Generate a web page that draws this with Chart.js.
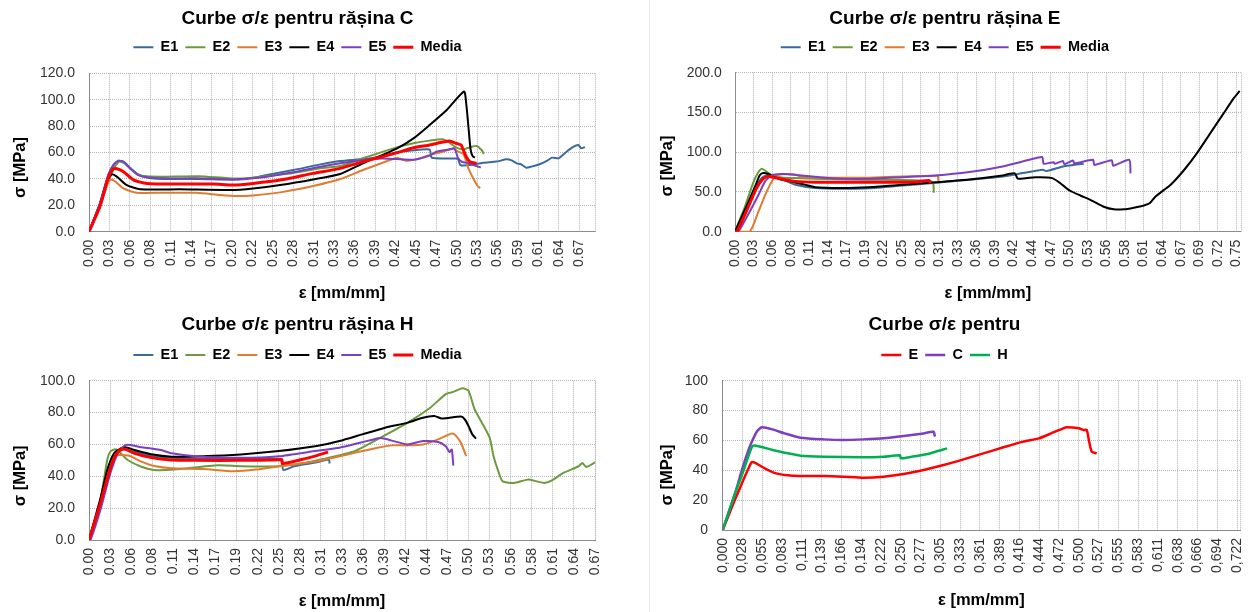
<!DOCTYPE html>
<html>
<head>
<meta charset="utf-8">
<script src="https://cdn.jsdelivr.net/npm/chart.js@4.4.1/dist/chart.umd.min.js"></script>
<style>
  html, body { margin: 0; padding: 0; background: #fff; }
  body { width: 1248px; height: 612px; position: relative; overflow: hidden; }
  canvas { position: absolute; }
  .divider { position: absolute; left: 649px; top: 0; width: 1px; height: 612px; background: #ececec; }
</style>
</head>
<body>
<div class="divider"></div>
<canvas id="chartC" width="620" height="310" style="left:0;top:0"></canvas>
<canvas id="chartE" width="599" height="310" style="left:649px;top:0"></canvas>
<canvas id="chartH" width="620" height="302" style="left:0;top:310px"></canvas>
<canvas id="chartAll" width="599" height="302" style="left:649px;top:310px"></canvas>
<script>
// ---- strain tick labels ----
const ticksC = ['0.00','0.03','0.06','0.08','0.11','0.14','0.17','0.20','0.22','0.25','0.28','0.31','0.33','0.36','0.39','0.42','0.45','0.47','0.50','0.53','0.56','0.59','0.61','0.64','0.67'];
const ticksE = ['0.00','0.03','0.06','0.08','0.11','0.14','0.17','0.19','0.22','0.25','0.28','0.31','0.33','0.36','0.39','0.42','0.44','0.47','0.50','0.53','0.56','0.58','0.61','0.64','0.67','0.69','0.72','0.75'];
const ticksH = ['0.00','0.03','0.06','0.08','0.11','0.14','0.17','0.19','0.22','0.25','0.28','0.31','0.33','0.36','0.39','0.42','0.44','0.47','0.50','0.53','0.56','0.58','0.61','0.64','0.67'];
const ticksAll = ['0,000','0,028','0,055','0,083','0,111','0,139','0,166','0,194','0,222','0,250','0,277','0,305','0,333','0,361','0,389','0,416','0,444','0,472','0,500','0,527','0,555','0,583','0,611','0,638','0,666','0,694','0,722'];

// ---- răşina C: [strain, stress MPa] ----
const cE1 = [[0,0],[0.015,21],[0.026,42],[0.033,50],[0.040,53.5],[0.047,53],[0.056,48.5],[0.067,43.5],[0.079,41],[0.10,40],[0.15,40],[0.19,39.5],[0.215,40],[0.243,42.9],[0.279,46.7],[0.316,51],[0.343,53.5],[0.374,55],[0.40,57],[0.42,60],[0.44,61.5],[0.465,62.3],[0.468,56],[0.50,55.5],[0.504,55],[0.507,50.5],[0.52,50.5],[0.538,52.3],[0.556,53.1],[0.570,54.8],[0.577,54],[0.584,51.8],[0.590,51],[0.597,48.5],[0.604,49.3],[0.616,51.3],[0.625,53.6],[0.632,56.1],[0.641,55.6],[0.652,60.6],[0.661,64.2],[0.668,65.7],[0.672,63.2],[0.677,64.2]];
const cE2 = [[0,0],[0.015,19],[0.026,38],[0.033,47],[0.041,53],[0.048,52],[0.056,48],[0.067,43.5],[0.079,42],[0.10,41.7],[0.15,42],[0.19,40.5],[0.215,40.5],[0.243,42.2],[0.279,44.5],[0.316,48],[0.343,49.7],[0.374,55.6],[0.42,63.9],[0.443,67],[0.465,69],[0.483,70],[0.49,68.2],[0.501,63.9],[0.511,62.4],[0.52,63.9],[0.529,65],[0.536,61.9],[0.539,58.8]];
const cE3 = [[0,0],[0.015,20],[0.026,37],[0.030,39.6],[0.036,38],[0.047,32.8],[0.065,29.5],[0.10,29.5],[0.147,29.5],[0.179,27.8],[0.202,27],[0.224,27.5],[0.261,29.8],[0.306,34.6],[0.343,39.9],[0.374,46.7],[0.411,54.3],[0.42,56],[0.433,53.8],[0.447,54.8],[0.465,58],[0.483,60.6],[0.497,63.1],[0.504,60.6],[0.511,59],[0.514,55],[0.518,48],[0.524,41],[0.53,35],[0.534,33]];
const cE4 = [[0,0],[0.015,21.5],[0.024,37.9],[0.031,43.4],[0.038,41.7],[0.051,35.4],[0.070,32.1],[0.124,32.1],[0.193,31.6],[0.224,32.8],[0.261,35.4],[0.306,39.6],[0.343,43.7],[0.374,51.8],[0.42,63],[0.443,70.7],[0.465,80.8],[0.488,92],[0.512,106.2],[0.515,97],[0.518,79.5],[0.521,62],[0.524,57],[0.527,56.3]];
const cE5 = [[0,0],[0.015,21.5],[0.026,42.9],[0.033,50.5],[0.040,53.8],[0.047,53],[0.056,48],[0.067,42.9],[0.079,41.2],[0.102,40.4],[0.147,40.4],[0.193,39.6],[0.215,40.2],[0.243,41.7],[0.279,45],[0.316,49.2],[0.343,51.8],[0.374,54.3],[0.40,55.5],[0.42,55],[0.443,54.5],[0.465,57.6],[0.474,60.6],[0.493,62.4],[0.499,63.1],[0.504,55.6],[0.509,53],[0.52,51.8],[0.529,49.7],[0.535,48.7]];
const cMedia = [[0,0],[0.015,19],[0.026,40.4],[0.033,47.5],[0.038,47.7],[0.047,45.5],[0.061,39.1],[0.079,36.6],[0.124,36.1],[0.17,36.1],[0.197,35.4],[0.224,36.6],[0.261,39.1],[0.306,44.2],[0.343,48],[0.374,53],[0.42,59.8],[0.443,63.6],[0.465,65.7],[0.483,67.9],[0.492,68.7],[0.501,67],[0.508,65.7],[0.511,61.9],[0.515,56.8],[0.52,53],[0.529,51.8]];

// ---- răşina E ----
const eE1 = [[0,0],[0.004,5],[0.020,33.5],[0.032,57],[0.040,67.5],[0.050,71.7],[0.060,68.3],[0.075,64.2],[0.090,59.1],[0.12,55],[0.16,54],[0.20,54.5],[0.25,58],[0.30,61.5],[0.35,65.3],[0.40,69.5],[0.43,73.7],[0.46,77.9],[0.465,76.2],[0.49,82.1],[0.50,83.4],[0.521,85.5]];
const eE2 = [[0,0],[0.015,31.9],[0.027,61.2],[0.035,75],[0.040,79.2],[0.045,76.7],[0.055,70.9],[0.070,68.3],[0.090,67.5],[0.15,66],[0.20,65.5],[0.25,65],[0.29,64],[0.296,62],[0.297,49]];
const eE3 = [[0,0],[0.022,0],[0.035,25.2],[0.045,46.1],[0.055,63.3],[0.062,70.9],[0.075,72.5],[0.090,71.7],[0.10,69],[0.15,67.8],[0.20,68],[0.25,69.5],[0.30,70.5],[0.303,70.7],[0.304,62.3]];
const eE4 = [[0,0],[0.017,31.9],[0.030,57],[0.037,70.9],[0.042,73.8],[0.050,72.5],[0.065,66.7],[0.090,62],[0.12,56],[0.16,55],[0.20,56],[0.25,59],[0.30,62.3],[0.35,65.7],[0.40,70.7],[0.41,72.8],[0.418,73.5],[0.422,67],[0.424,66.5],[0.45,68.5],[0.474,67.4],[0.486,61],[0.50,51.8],[0.516,45.5],[0.533,39.2],[0.551,31.4],[0.566,28.1],[0.581,28.1],[0.596,30.2],[0.611,33],[0.62,36],[0.628,44],[0.64,52],[0.651,59],[0.671,77.6],[0.690,98.5],[0.710,123.7],[0.730,148.8],[0.745,167.7],[0.754,177]];
const eE5 = [[0,0],[0.005,0],[0.022,25.2],[0.035,46.1],[0.045,63.3],[0.055,70.9],[0.070,72.5],[0.090,71.7],[0.10,70.7],[0.15,67],[0.20,66.5],[0.25,68.6],[0.30,70.7],[0.35,75],[0.40,82.1],[0.44,90.5],[0.459,93.9],[0.461,85.5],[0.476,87.5],[0.478,85.5],[0.49,89],[0.492,85],[0.505,89.5],[0.507,86],[0.535,90.5],[0.537,84],[0.563,90],[0.565,83],[0.589,90.5],[0.591,73.4]];
const eMedia = [[0,0],[0.003,0],[0.021,33.5],[0.032,54.5],[0.042,66.7],[0.050,69.6],[0.057,68.3],[0.075,65.4],[0.090,63.3],[0.12,62.3],[0.20,62.3],[0.27,62.5],[0.29,64.4],[0.292,61]];

// ---- răşina H ----
const hE1 = [[0,0],[0.015,22],[0.026,43],[0.035,53],[0.045,57],[0.055,56],[0.082,52.7],[0.109,51.7],[0.15,51],[0.20,51],[0.25,51],[0.254,50.5],[0.256,44],[0.27,46.3],[0.30,48.8],[0.316,50.5],[0.317,48]];
const hE2 = [[0,0],[0.015,25.1],[0.024,50.2],[0.028,55.4],[0.035,56.9],[0.042,54.4],[0.051,50.2],[0.069,46],[0.086,43.9],[0.112,44.2],[0.17,46.9],[0.20,46.3],[0.25,46.3],[0.28,48],[0.31,51],[0.35,55.8],[0.38,63.2],[0.42,73.7],[0.45,83.2],[0.47,91.6],[0.48,93],[0.492,95.2],[0.50,93.7],[0.508,82.1],[0.52,71.6],[0.528,64.2],[0.533,52.6],[0.54,42.1],[0.545,36.8],[0.56,35.8],[0.578,37.9],[0.59,36.8],[0.60,35.8],[0.61,37.5],[0.625,42.1],[0.645,46.3],[0.65,48.4],[0.655,45.9],[0.667,48.8]];
const hE3 = [[0,0],[0.015,25],[0.024,43.9],[0.033,52.3],[0.039,53.3],[0.053,52.9],[0.069,49.2],[0.086,46.4],[0.109,45],[0.15,44.6],[0.19,43.2],[0.22,44.2],[0.25,46.3],[0.30,49.5],[0.35,54.7],[0.38,57.9],[0.40,59.4],[0.42,59.4],[0.44,60],[0.46,63.2],[0.478,66.9],[0.483,65.7],[0.49,61],[0.497,52.6]];
const hE4 = [[0,0],[0.015,26],[0.024,43.9],[0.033,54.4],[0.042,57.5],[0.048,58.2],[0.060,56.5],[0.082,53.8],[0.109,52.3],[0.15,52.6],[0.20,53.7],[0.25,55.8],[0.30,59],[0.33,62.1],[0.36,66.3],[0.39,70.5],[0.42,73.7],[0.44,76.8],[0.455,77.9],[0.465,76.2],[0.49,77.5],[0.495,75.8],[0.50,71.6],[0.505,66.3],[0.51,63.6]];
const hE5 = [[0,0],[0.002,0],[0.015,18.8],[0.028,41.8],[0.039,55.4],[0.048,59.6],[0.055,59.6],[0.069,58.2],[0.082,57.5],[0.095,56.5],[0.109,54.4],[0.14,52.6],[0.20,51.6],[0.25,52.6],[0.30,56],[0.33,57.9],[0.383,64],[0.39,63.5],[0.42,60],[0.44,62.1],[0.46,61.5],[0.47,58.9],[0.475,55.2],[0.478,56.8],[0.48,46.7]];
const hMedia = [[0,0],[0.015,23],[0.026,41.8],[0.035,53.3],[0.042,56.9],[0.048,56.9],[0.060,54.4],[0.082,51.7],[0.109,50.2],[0.14,50],[0.20,50],[0.25,50.3],[0.254,50.5],[0.255,48],[0.28,50.5],[0.30,53],[0.315,55.2]];

// ---- medii pe răşini ----
const allE = [[0,0],[0.017,20],[0.027,31.3],[0.035,40],[0.041,45.5],[0.047,44.6],[0.059,41.3],[0.075,37.9],[0.098,36.4],[0.142,36.2],[0.170,35.7],[0.198,35],[0.226,35.7],[0.254,37.5],[0.282,40.2],[0.310,43.5],[0.338,47.3],[0.366,51.3],[0.394,55.4],[0.422,59.2],[0.444,61.4],[0.461,64.7],[0.478,68.1],[0.483,68.8],[0.500,68.1],[0.506,67],[0.511,67],[0.514,60.3],[0.518,52.5],[0.525,51.3]];
const allC = [[0,0],[0.017,24],[0.027,40.2],[0.035,52],[0.041,59.2],[0.048,66],[0.055,68.8],[0.070,67.4],[0.087,64.7],[0.109,61.8],[0.142,60.7],[0.170,60.3],[0.198,60.7],[0.226,61.4],[0.254,62.9],[0.282,64.7],[0.296,65.8],[0.298,62.5]];
const allH = [[0,0],[0.017,24],[0.027,36.8],[0.035,48],[0.041,55.6],[0.044,56.6],[0.053,55.8],[0.070,53.6],[0.087,51.8],[0.109,49.8],[0.142,49.1],[0.198,48.7],[0.226,49.1],[0.249,50],[0.25,48],[0.265,49.1],[0.288,50.9],[0.315,54.7]];

const FONT = "'Liberation Sans', Arial, sans-serif";
const GRID = '#b4b4b4';
const AXIS = '#8c8c8c';
const BLUE = '#3b6a98', GREEN = '#6c9a3c', ORANGE = '#e07b30', BLACK = '#000000', PURPLE = '#7b3fc0', RED = '#ff0000';

Chart.defaults.font.family = FONT;
Chart.defaults.color = '#333';

// stretches the legend box so the plot starts lower
const legendGap = (extra) => ({
    id: 'legendGap',
    beforeInit(chart) {
        const fit = chart.legend.fit;
        chart.legend.fit = function () {
            fit.call(this);
            this.height += extra;
        };
    }
});

// dotted right edge of the plot area
const plotEdge = {
    id: 'plotEdge',
    beforeDatasetsDraw(chart) {
        const { ctx, chartArea: a } = chart;
        const x = Math.round(a.right) + 0.5;
        ctx.save();
        ctx.strokeStyle = GRID;
        ctx.lineWidth = 1;
        ctx.setLineDash([1, 1]);
        ctx.beginPath();
        ctx.moveTo(x, a.top);
        ctx.lineTo(x, a.bottom);
        ctx.stroke();
        ctx.restore();
    }
};

// rotated stress title, sitting a little below the plot's middle
const stressTitle = (x, y) => ({
    id: 'stressTitle',
    afterDraw(chart) {
        const ctx = chart.ctx;
        ctx.save();
        ctx.translate(x, y);
        ctx.rotate(-Math.PI / 2);
        ctx.font = `bold 16.5px ${FONT}`;
        ctx.fillStyle = '#000';
        ctx.textAlign = 'center';
        ctx.textBaseline = 'middle';
        ctx.fillText('σ [MPa]', 0, 0);
        ctx.restore();
    }
});

function series(label, pts, color, width) {
    return { label, data: pts.map(([x, y]) => ({ x, y })), color, width };
}

function buildChart(id, p) {
    const n = p.series.length;
    const datasets = p.series.map((s, i) => ({
        label: s.label,
        data: s.data,
        borderColor: s.color,
        backgroundColor: s.color,
        borderWidth: s.width,
        pointRadius: 0,
        tension: 0.2,
        order: n - i
    }));

    return new Chart(document.getElementById(id), {
        type: 'line',
        data: { datasets },
        options: {
            responsive: false,
            animation: false,
            events: [],
            layout: { padding: { left: 0, right: p.padRight, top: 0, bottom: 0 } },
            plugins: {
                tooltip: { enabled: false },
                title: {
                    display: true,
                    text: p.title,
                    color: '#000',
                    font: { size: 19, weight: 'bold' },
                    padding: { top: p.titleTop, bottom: p.titleBottom }
                },
                legend: {
                    position: 'top',
                    labels: {
                        usePointStyle: true,
                        pointStyle: 'line',
                        pointStyleWidth: 20,
                        padding: 7,
                        color: '#000',
                        font: { size: 14.5, weight: 'bold' },
                        sort: (a, b) => a.datasetIndex - b.datasetIndex
                    }
                }
            },
            scales: {
                x: {
                    type: 'linear',
                    min: 0,
                    max: p.xMax,
                    afterBuildTicks: (scale) => {
                        scale.ticks = p.xLabels.map((_, i) => ({ value: i * p.xStep }));
                    },
                    afterFit: (scale) => {
                        scale.height = p.xHeight;
                        scale.paddingLeft = 0;
                        scale.paddingRight = 0;
                    },
                    ticks: {
                        autoSkip: false,
                        minRotation: 90,
                        maxRotation: 90,
                        padding: 8,
                        color: '#333',
                        font: { size: 14 },
                        callback: (v, i) => p.xLabels[i]
                    },
                    grid: { color: GRID, drawTicks: false },
                    border: { color: AXIS, dash: [1, 1] },
                    title: {
                        display: true,
                        text: 'ε [mm/mm]',
                        color: '#000',
                        font: { size: 16.5, weight: 'bold' },
                        padding: { top: 0, bottom: p.xTitlePad }
                    }
                },
                y: {
                    min: 0,
                    max: p.yMax,
                    afterFit: (scale) => { scale.width = p.yWidth; },
                    ticks: {
                        stepSize: p.yStep,
                        padding: p.yTickPad,
                        color: '#333',
                        font: { size: 14 },
                        callback: (v) => v.toFixed(p.yDecimals)
                    },
                    grid: { color: GRID, drawTicks: false },
                    border: { color: AXIS, dash: [1, 1] }
                }
            }
        },
        plugins: [legendGap(p.legendExtra), plotEdge, stressTitle(p.yTitleX, p.yTitleY)]
    });
}

buildChart('chartC', {
    title: 'Curbe σ/ε pentru rășina C',
    series: [
        series('E1', cE1, BLUE, 2), series('E2', cE2, GREEN, 2), series('E3', cE3, ORANGE, 2),
        series('E4', cE4, BLACK, 2), series('E5', cE5, PURPLE, 2), series('Media', cMedia, RED, 3)
    ],
    xLabels: ticksC, xStep: 0.02789, xMax: 0.6908,
    yMax: 120, yStep: 20, yDecimals: 1,
    titleTop: 7.2, titleBottom: 3, legendExtra: 8.8,
    yWidth: 89, yTickPad: 14, yTitleX: 20, yTitleY: 167.5,
    xHeight: 78.3, xTitlePad: 7.1, padRight: 25
});

buildChart('chartE', {
    title: 'Curbe σ/ε pentru rășina E',
    series: [
        series('E1', eE1, BLUE, 2), series('E2', eE2, GREEN, 2), series('E3', eE3, ORANGE, 2),
        series('E4', eE4, BLACK, 2), series('E5', eE5, PURPLE, 2), series('Media', eMedia, RED, 3)
    ],
    xLabels: ticksE, xStep: 0.02775, xMax: 0.7556,
    yMax: 200, yStep: 50, yDecimals: 1,
    titleTop: 7.2, titleBottom: 3, legendExtra: 8.2,
    yWidth: 86, yTickPad: 13.3, yTitleX: 18.7, yTitleY: 166,
    xHeight: 78.3, xTitlePad: 6.8, padRight: 7.3
});

buildChart('chartH', {
    title: 'Curbe σ/ε pentru rășina H',
    series: [
        series('E1', hE1, BLUE, 2), series('E2', hE2, GREEN, 2), series('E3', hE3, ORANGE, 2),
        series('E4', hE4, BLACK, 2), series('E5', hE5, PURPLE, 2), series('Media', hMedia, RED, 3)
    ],
    xLabels: ticksH, xStep: 1 / 36, xMax: 24 / 36,
    yMax: 100, yStep: 20, yDecimals: 1,
    titleTop: 3.6, titleBottom: 4.35, legendExtra: 8.45,
    yWidth: 89, yTickPad: 14, yTitleX: 20, yTitleY: 165.8,
    xHeight: 72, xTitlePad: 0.4, padRight: 25
});

buildChart('chartAll', {
    title: 'Curbe σ/ε pentru',
    series: [
        series('E', allE, RED, 2.5), series('C', allC, PURPLE, 2.5), series('H', allH, '#00b050', 2.5)
    ],
    xLabels: ticksAll, xStep: 0.02777, xMax: 0.7262,
    yMax: 100, yStep: 20, yDecimals: 0,
    titleTop: 3.6, titleBottom: 4.35, legendExtra: 8.45,
    yWidth: 73.7, yTickPad: 14.7, yTitleX: 18.7, yTitleY: 165,
    xHeight: 82, xTitlePad: 2.1, padRight: 8
});
</script>
</body>
</html>
